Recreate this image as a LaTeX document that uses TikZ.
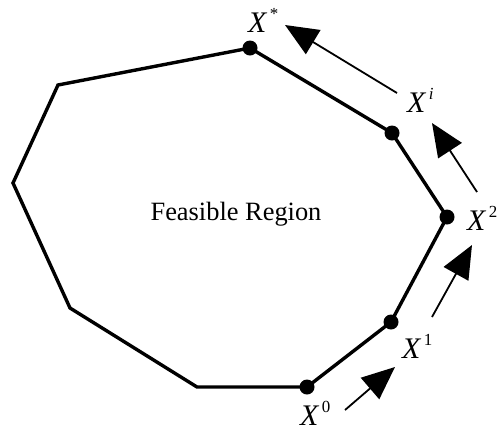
\documentclass[tikz,border=0pt]{standalone}
\usepackage{fontspec}
\setmainfont{Liberation Serif}
\usetikzlibrary{arrows.meta}
\newcommand\xlbl[1]{\textit{X}\hspace{2.5bp}\raisebox{13bp}{\fontsize{17}{17}\selectfont #1}}
\tikzset{
  edge/.style={line width=3.4bp, line join=miter},
  pt/.style={circle, fill=black, inner sep=0pt, minimum size=15bp},
  mv/.style={line width=1.8bp, -{Triangle[length=33bp,width=28bp]}},
  lab/.style={inner sep=0pt, anchor=base west, font=\fontsize{30}{30}\selectfont}
}
\begin{document}
\begin{tikzpicture}[x=1bp,y=-1bp]
\useasboundingbox (0,0) rectangle (504,432);
\coordinate (A) at (250,48);
\coordinate (B) at (58,85);
\coordinate (C) at (13,183);
\coordinate (D) at (70,308);
\coordinate (E) at (197,387);
\coordinate (F) at (307,387);
\coordinate (G) at (391,322);
\coordinate (H) at (447,217);
\coordinate (I) at (392,133);
\draw[edge] (A) -- (B) -- (C) -- (D) -- (E) -- (F) -- (G) -- (H) -- (I) -- cycle;
\foreach \p in {A,F,G,H,I} \node[pt] at (\p) {};
\node[font=\fontsize{26.5}{26.5}\selectfont] (fr) at (236,214) {Feasible Region};
\node[lab] (l0) at (300,425) {\xlbl{0}};
\node[lab] (l1) at (402,358) {\xlbl{1}};
\node[lab] (l2) at (467,230) {\xlbl{2}};
\node[lab] (li) at (407,112) {\xlbl{\textit{i}}};
\node[lab] (ls) at (248,32) {\xlbl{*}};
\coordinate (a0s) at (345,410); \coordinate (a0e) at (395,367);
\coordinate (a1s) at (432,317); \coordinate (a1e) at (472,245);
\coordinate (a2s) at (477,192); \coordinate (a2e) at (432,123);
\coordinate (a3s) at (397,93);  \coordinate (a3e) at (285,25);
\draw[mv] (a0s) -- (a0e);
\draw[mv] (a1s) -- (a1e);
\draw[mv] (a2s) -- (a2e);
\draw[mv] (a3s) -- (a3e);
\end{tikzpicture}
\end{document}
